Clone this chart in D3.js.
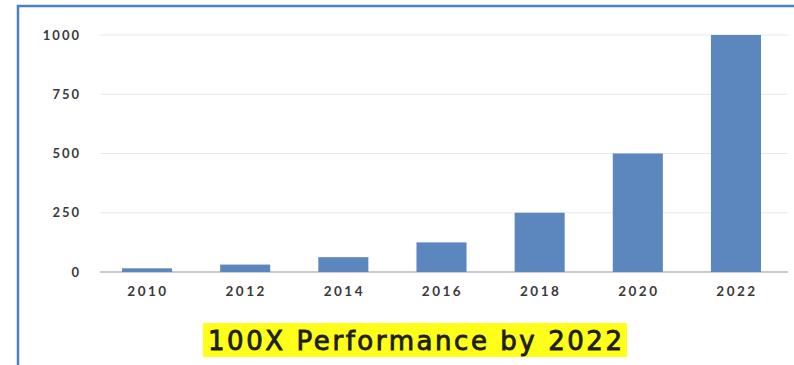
<!DOCTYPE html>
<html>
<head>
<meta charset="utf-8">
<script src="https://cdn.jsdelivr.net/npm/d3@7"></script>
<style>
  body { margin: 0; background: #fff; }
  svg { display: block; }
</style>
</head>
<body>
<div id="chart"></div>
<script>
// data
var years = ["2010", "2012", "2014", "2016", "2018", "2020", "2022"];
var perf = [15.6, 31.3, 62.5, 125, 250, 500, 1000];
var yTicks = [0, 250, 500, 750, 1000];
var title = "100X Performance by 2022";

var width = 794, height = 365;
var margin = { top: 35, right: 11, bottom: 93, left: 100 };

var svg = d3.select("#chart").append("svg")
    .attr("width", width)
    .attr("height", height);

// blue frame (top + left only)
svg.append("path")
    .attr("d", "M18,365 V6 H794")
    .attr("fill", "none")
    .attr("stroke", "#4a7fcb")
    .attr("stroke-width", 2.5);

var x = d3.scaleBand()
    .domain(years)
    .range([margin.left, width - margin.right])
    .paddingInner(0.49)
    .paddingOuter(0.224);

var y = d3.scaleLinear()
    .domain([0, 1000])
    .range([height - margin.bottom, margin.top]);

// gridlines
svg.append("g")
    .selectAll("line")
    .data(yTicks)
    .enter().append("line")
    .attr("x1", margin.left)
    .attr("x2", 788)
    .attr("y1", d => y(d))
    .attr("y2", d => y(d))
    .attr("stroke", d => d === 0 ? "#b9b9b9" : "#e8e8e8")
    .attr("stroke-width", d => d === 0 ? 1.5 : 1.2);

// y labels
svg.append("g")
    .selectAll("text")
    .data(yTicks)
    .enter().append("text")
    .attr("x", 81)
    .attr("y", d => y(d))
    .attr("dy", "0.35em")
    .attr("text-anchor", "end")
    .attr("font-family", "Lato, sans-serif")
    .attr("font-weight", "bold")
    .attr("font-size", 13)
    .attr("letter-spacing", 2)
    .attr("fill", "#3a3a3a")
    .text(d => d);

// bars
svg.append("g")
    .selectAll("rect")
    .data(perf)
    .enter().append("rect")
    .attr("x", (d, i) => x(years[i]))
    .attr("width", x.bandwidth())
    .attr("y", d => y(d))
    .attr("height", d => y(0) - y(d))
    .attr("fill", "#5b86be");

// x labels
svg.append("g")
    .selectAll("text")
    .data(years)
    .enter().append("text")
    .attr("x", d => x(d) + x.bandwidth() / 2 + 1)
    .attr("y", 296)
    .attr("text-anchor", "middle")
    .attr("font-family", "Lato, sans-serif")
    .attr("font-weight", "bold")
    .attr("font-size", 13.5)
    .attr("letter-spacing", 2.5)
    .attr("fill", "#3a3a3a")
    .text(d => d);

// title on yellow highlight
svg.append("rect")
    .attr("x", 203)
    .attr("y", 323)
    .attr("width", 424)
    .attr("height", 34)
    .attr("fill", "#ffff1a");

svg.append("text")
    .attr("x", 208)
    .attr("y", 350)
    .attr("textLength", 414)
    .attr("lengthAdjust", "spacing")
    .attr("font-family", "'DejaVu Sans', sans-serif")
    .attr("font-size", 26)
    .attr("fill", "#1e1e1e")
    .attr("stroke", "#1e1e1e")
    .attr("stroke-width", 0.9)
    .text(title);
</script>
</body>
</html>
